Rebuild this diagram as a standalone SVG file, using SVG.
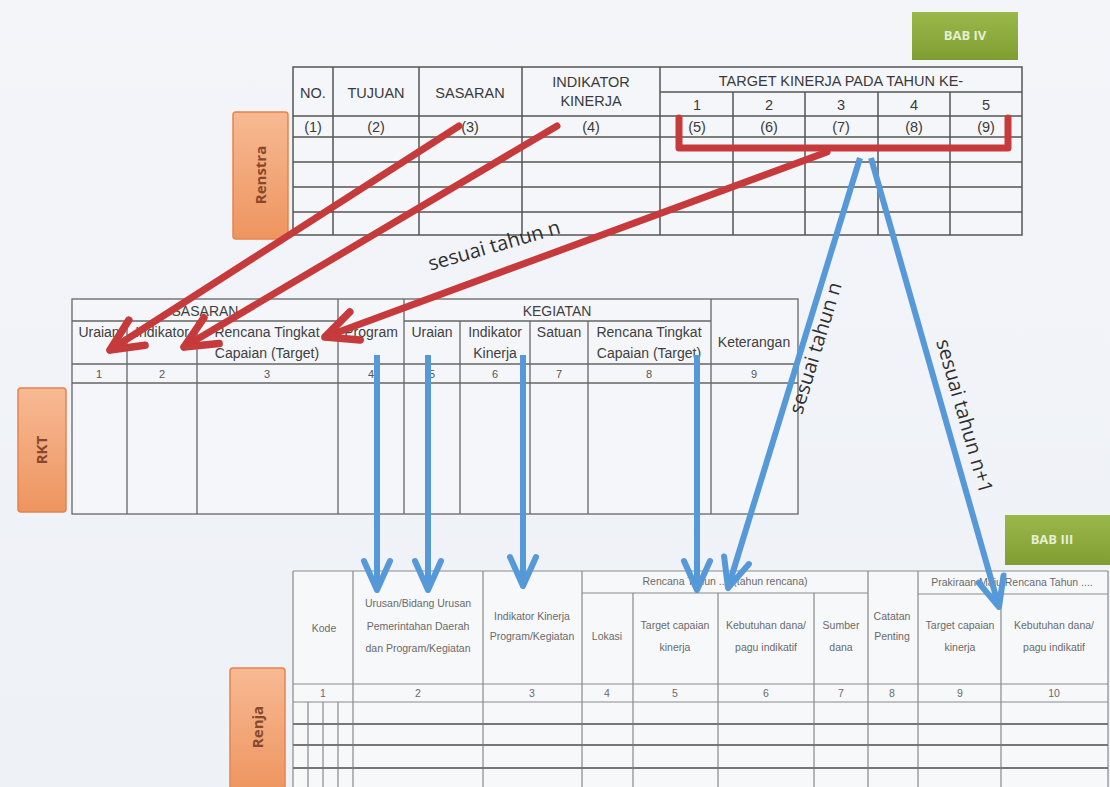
<svg xmlns="http://www.w3.org/2000/svg" width="1110" height="787" viewBox="0 0 1110 787">
  <defs>
    <linearGradient id="bg" x1="0" y1="0" x2="0" y2="1">
      <stop offset="0" stop-color="#f3f5f9"/>
      <stop offset="1" stop-color="#eef1f6"/>
    </linearGradient>
    <linearGradient id="orange" x1="0" y1="0" x2="0" y2="1">
      <stop offset="0" stop-color="#f7b993"/>
      <stop offset="1" stop-color="#ee955f"/>
    </linearGradient>
    <linearGradient id="green" x1="0" y1="0" x2="0" y2="1">
      <stop offset="0" stop-color="#9ab84a"/>
      <stop offset="1" stop-color="#7f9d31"/>
    </linearGradient>
    <marker id="headRed" viewBox="0 0 44 44" markerUnits="userSpaceOnUse" markerWidth="44" markerHeight="44" refX="37" refY="22" orient="auto">
      <path d="M5,7 L37,22 L5,37" fill="none" stroke="#c63a3c" stroke-width="7.5" stroke-linecap="round" stroke-linejoin="round"/>
    </marker>
    <marker id="headBlue" viewBox="0 0 40 40" markerUnits="userSpaceOnUse" markerWidth="40" markerHeight="40" refX="34" refY="20" orient="auto">
      <path d="M5,7 L34,20 L5,33" fill="none" stroke="#5599d8" stroke-width="6" stroke-linecap="round" stroke-linejoin="round"/>
    </marker>
    <style>
      .grid { stroke: #555; stroke-width: 1.5; fill: none; }
      .grid2 { stroke: #666; stroke-width: 1.3; fill: none; }
      .grid3 { stroke: #8a8a8a; stroke-width: 1.2; fill: none; }
      .cell { fill: #f5f6f9; }
      .h1 { font-family: "Liberation Sans", Arial, sans-serif; font-size: 14.5px; fill: #3a3a3a; text-anchor: middle; }
      .h2 { font-family: "Liberation Sans", Arial, sans-serif; font-size: 14px; fill: #404040; text-anchor: middle; }
      .n2 { font-family: "Liberation Sans", Arial, sans-serif; font-size: 11px; fill: #555; text-anchor: middle; }
      .h3 { font-family: "Liberation Sans", Arial, sans-serif; font-size: 10.5px; fill: #6a6a6a; text-anchor: middle; }
      .side { font-family: "Open Sans", "DejaVu Sans", sans-serif; font-size: 15px; font-weight: bold; fill: #87492d; text-anchor: middle; }
      .bab { font-family: "Open Sans", "DejaVu Sans", sans-serif; font-size: 13px; font-weight: bold; fill: #e6eed2; text-anchor: middle; }
      .note { font-family: "Open Sans", "DejaVu Sans", sans-serif; font-size: 20px; fill: #2f2f2f; text-anchor: middle; }
      .red { stroke: #c63a3c; stroke-width: 7; fill: none; stroke-linecap: round; }
      .blue { stroke: #5599d8; stroke-width: 6; fill: none; }
    </style>
  </defs>

  <rect width="1110" height="787" fill="url(#bg)"/>

  <!-- Renstra table -->
  <g id="renstra-table">
    <rect x="293" y="67" width="729" height="168" class="cell"/>
    <rect x="293" y="67" width="729" height="168" class="grid"/>
    <path class="grid" d="M293,116 H1022 M293,137 H1022 M293,162 H1022 M293,187 H1022 M293,212 H1022 M660,92 H1022
      M333,67 V235 M419,67 V235 M522,67 V235 M660,67 V235 M733,92 V235 M805,92 V235 M878,92 V235 M950,92 V235"/>
    <text class="h1" x="313" y="98">NO.</text>
    <text class="h1" x="376" y="98">TUJUAN</text>
    <text class="h1" x="470" y="98">SASARAN</text>
    <text class="h1" x="591" y="87">INDIKATOR</text>
    <text class="h1" x="591" y="106">KINERJA</text>
    <text class="h1" x="841" y="86">TARGET KINERJA PADA TAHUN KE-</text>
    <text class="h1" x="697" y="110">1</text>
    <text class="h1" x="769" y="110">2</text>
    <text class="h1" x="841" y="110">3</text>
    <text class="h1" x="914" y="110">4</text>
    <text class="h1" x="986" y="110">5</text>
    <text class="h1" x="313" y="132">(1)</text>
    <text class="h1" x="376" y="132">(2)</text>
    <text class="h1" x="470" y="132">(3)</text>
    <text class="h1" x="591" y="132">(4)</text>
    <text class="h1" x="697" y="132">(5)</text>
    <text class="h1" x="769" y="132">(6)</text>
    <text class="h1" x="841" y="132">(7)</text>
    <text class="h1" x="914" y="132">(8)</text>
    <text class="h1" x="986" y="132">(9)</text>
  </g>

  <!-- RKT table -->
  <g id="rkt-table">
    <rect x="72" y="299" width="726" height="215" class="cell"/>
    <rect x="72" y="299" width="726" height="215" class="grid2"/>
    <path class="grid2" d="M72,321 H338 M404,321 H711 M72,364 H798 M72,383 H798
      M127,321 V514 M197,321 V514 M338,299 V514 M404,299 V514 M460,321 V514 M530,321 V514 M588,321 V514 M711,299 V514"/>
    <text class="h2" x="205" y="316">SASARAN</text>
    <text class="h2" x="557" y="316">KEGIATAN</text>
    <text class="h2" x="99" y="337">Uraian</text>
    <text class="h2" x="162" y="337">Indikator</text>
    <text class="h2" x="267" y="337">Rencana Tingkat</text>
    <text class="h2" x="267" y="358">Capaian (Target)</text>
    <text class="h2" x="371" y="337">Program</text>
    <text class="h2" x="432" y="337">Uraian</text>
    <text class="h2" x="495" y="337">Indikator</text>
    <text class="h2" x="495" y="358">Kinerja</text>
    <text class="h2" x="559" y="337">Satuan</text>
    <text class="h2" x="649" y="337">Rencana Tingkat</text>
    <text class="h2" x="649" y="358">Capaian (Target)</text>
    <text class="h2" x="754" y="347">Keterangan</text>
    <text class="n2" x="99" y="378">1</text>
    <text class="n2" x="162" y="378">2</text>
    <text class="n2" x="267" y="378">3</text>
    <text class="n2" x="371" y="378">4</text>
    <text class="n2" x="432" y="378">5</text>
    <text class="n2" x="495" y="378">6</text>
    <text class="n2" x="559" y="378">7</text>
    <text class="n2" x="649" y="378">8</text>
    <text class="n2" x="754" y="378">9</text>
  </g>

  <!-- Renja table -->
  <g id="renja-table">
    <rect x="293" y="571" width="815" height="216" fill="#f7f8fa"/>
    <path class="grid3" d="M293,571 H1108 M293,571 V787 M1108,571 V787
      M582,593 H868 M918,594 H1108 M293,684 H1108 M293,702 H1108
      M353,571 V787 M483,571 V787 M582,571 V787 M633,593 V787 M718,593 V787 M814,593 V787 M868,571 V787 M918,571 V787 M1001,594 V787
      M308,702 V787 M323,702 V787 M338,702 V787"/>
    <path d="M293,724 H1108 M293,745 H1108 M293,768 H1108" stroke="#777" stroke-width="2" fill="none"/>
    <text class="h3" x="324" y="632">Kode</text>
    <text class="h3" x="418" y="607">Urusan/Bidang Urusan</text>
    <text class="h3" x="418" y="630">Pemerintahan Daerah</text>
    <text class="h3" x="418" y="652">dan Program/Kegiatan</text>
    <text class="h3" x="532" y="620">Indikator Kinerja</text>
    <text class="h3" x="532" y="640">Program/Kegiatan</text>
    <text class="h3" x="725" y="585">Rencana Tahun .... (tahun rencana)</text>
    <text class="h3" x="607" y="640">Lokasi</text>
    <text class="h3" x="675" y="629">Target capaian</text>
    <text class="h3" x="675" y="651">kinerja</text>
    <text class="h3" x="766" y="629">Kebutuhan dana/</text>
    <text class="h3" x="766" y="651">pagu indikatif</text>
    <text class="h3" x="841" y="629">Sumber</text>
    <text class="h3" x="841" y="651">dana</text>
    <text class="h3" x="892" y="620">Catatan</text>
    <text class="h3" x="892" y="640">Penting</text>
    <text class="h3" x="1012" y="586">Prakiraan Maju Rencana Tahun ....</text>
    <text class="h3" x="960" y="629">Target capaian</text>
    <text class="h3" x="960" y="651">kinerja</text>
    <text class="h3" x="1054" y="629">Kebutuhan dana/</text>
    <text class="h3" x="1054" y="651">pagu indikatif</text>
    <text class="h3" x="323" y="697">1</text>
    <text class="h3" x="418" y="697">2</text>
    <text class="h3" x="532" y="697">3</text>
    <text class="h3" x="607" y="697">4</text>
    <text class="h3" x="675" y="697">5</text>
    <text class="h3" x="766" y="697">6</text>
    <text class="h3" x="841" y="697">7</text>
    <text class="h3" x="892" y="697">8</text>
    <text class="h3" x="960" y="697">9</text>
    <text class="h3" x="1054" y="697">10</text>
  </g>

  <!-- Side labels -->
  <g id="label-renstra">
    <rect x="233" y="112" width="55" height="127" rx="3" fill="url(#orange)" stroke="#e4844d" stroke-width="1.5"/>
    <text class="side" transform="translate(266,175) rotate(-90)">Renstra</text>
  </g>
  <g id="label-rkt">
    <rect x="18" y="388" width="48" height="124" rx="3" fill="url(#orange)" stroke="#e4844d" stroke-width="1.5"/>
    <text class="side" transform="translate(47,450) rotate(-90)">RKT</text>
  </g>
  <g id="label-renja">
    <rect x="230" y="668" width="55" height="125" rx="3" fill="url(#orange)" stroke="#e4844d" stroke-width="1.5"/>
    <text class="side" transform="translate(263,727) rotate(-90)">Renja</text>
  </g>
  <g id="label-bab-iv">
    <rect x="912" y="12" width="106" height="48" fill="url(#green)"/>
    <text class="bab" x="965" y="40">BAB IV</text>
  </g>
  <g id="label-bab-iii">
    <rect x="1005" y="515" width="105" height="50" fill="url(#green)"/>
    <text class="bab" x="1052" y="544">BAB III</text>
  </g>

  <!-- Connectors -->
  <g id="connectors">
    <path class="red" d="M679,118 V148 H1008 V118" stroke-linejoin="round"/>
    <line class="red" x1="459" y1="126" x2="110" y2="350" marker-end="url(#headRed)"/>
    <line class="red" x1="557" y1="126" x2="184" y2="347" marker-end="url(#headRed)"/>
    <line class="red" x1="827" y1="152" x2="325" y2="337" marker-end="url(#headRed)"/>

    <line class="blue" x1="377" y1="355" x2="377" y2="590" marker-end="url(#headBlue)"/>
    <line class="blue" x1="428" y1="355" x2="428" y2="590" marker-end="url(#headBlue)"/>
    <line class="blue" x1="523" y1="355" x2="523" y2="586" marker-end="url(#headBlue)"/>
    <line class="blue" x1="697" y1="355" x2="697" y2="590" marker-end="url(#headBlue)"/>
    <line class="blue" x1="860" y1="158" x2="728" y2="588" marker-end="url(#headBlue)"/>
    <line class="blue" x1="871" y1="158" x2="999" y2="607" marker-end="url(#headBlue)"/>

    <text class="note" transform="translate(496,252) rotate(-16)">sesuai tahun n</text>
    <text class="note" transform="translate(822,350) rotate(-73)">sesuai tahun n</text>
    <text class="note" transform="translate(958,418) rotate(74)">sesuai tahun n+1</text>
  </g>
</svg>
